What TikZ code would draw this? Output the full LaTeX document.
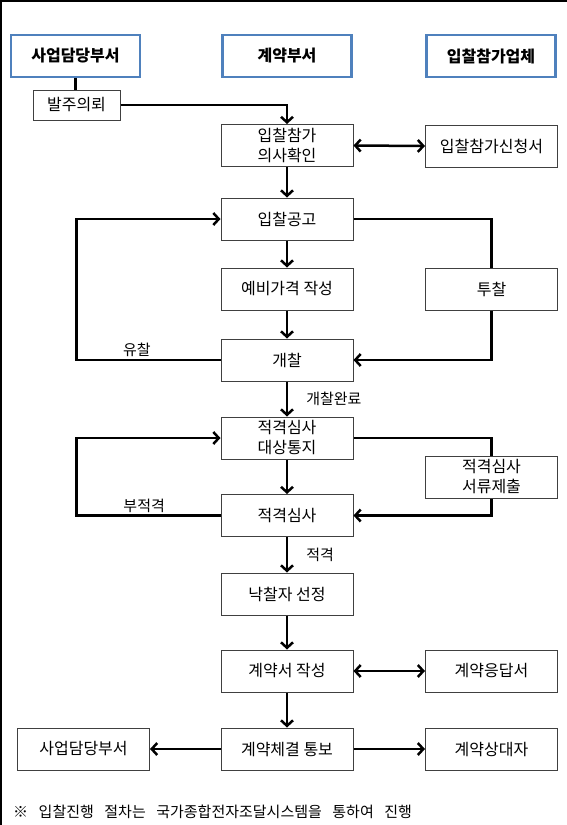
\documentclass[tikz,border=0pt]{standalone}
\usepackage{fontspec}
\usepackage{xcolor}
\usetikzlibrary{arrows.meta}
\setmainfont{Noto Sans CJK KR}

\definecolor{hdrblue}{RGB}{79,129,189}
\definecolor{boxgray}{RGB}{64,64,64}

\begin{document}
\begin{tikzpicture}[x=1pt, y=-1pt,
    box/.style={draw=boxgray, line width=1pt, minimum width=132pt, minimum height=42pt,
        inner sep=0pt, align=center, font=\fontsize{16}{20}\selectfont},
    hdr/.style={draw=hdrblue, line width=2.5pt, minimum width=129pt, minimum height=42pt,
        inner sep=0pt, font=\fontsize{16}{20}\selectfont\bfseries},
    link/.style={line width=2.5pt},
    flow/.style={line width=2.5pt, -{Straight Barb[length=5.5pt, width=12pt]}},
    both/.style={line width=2.5pt, {Straight Barb[length=5.5pt, width=12pt]}-{Straight Barb[length=5.5pt, width=12pt]}},
    tag/.style={font=\fontsize{15}{16}\selectfont, inner sep=2pt}]

    % Frame and page size
    \useasboundingbox (0, 0) rectangle (567, 825);
    \draw[line width=1.5pt] (1, 825) -- (1, 1) -- (567, 1);

    % Headers
    \node[hdr] (hdrA) at (75.5, 56) {사업담당부서};
    \node[hdr] (hdrB) at (287, 56) {계약부서};
    \node[hdr] (hdrC) at (491, 56) {입찰참가업체};

    % Steps
    \node[box, minimum width=87pt, minimum height=30pt] (order) at (76.5, 105) {발주의뢰};
    \node[box] (intent) at (287, 145.5) {입찰참가\\의사확인};
    \node[box] (apply) at (491.5, 146) {입찰참가신청서};
    \node[box] (notice) at (287, 219) {입찰공고};
    \node[box] (price) at (287, 289) {예비가격 작성};
    \node[box] (bid) at (491.5, 289) {투찰};
    \node[box] (open) at (287, 360) {개찰};
    \node[box] (target) at (287, 438) {적격심사\\대상통지};
    \node[box] (docs) at (491.5, 477) {적격심사\\서류제출};
    \node[box] (review) at (287, 515.5) {적격심사};
    \node[box] (winner) at (287, 594) {낙찰자 선정};
    \node[box] (contract) at (287, 671) {계약서 작성};
    \node[box] (reply) at (491.5, 671) {계약응답서};
    \node[box] (notify) at (287, 749) {계약체결 통보};
    \node[box] (dept) at (83.5, 749) {사업담당부서};
    \node[box] (partner) at (491.5, 749) {계약상대자};

    % Request and intent
    \draw[link] (hdrA.south) -- (hdrA.south |- order.north);
    \draw[flow] (order.east) -| (intent.north);
    \draw[both] (intent.east) -- (apply.west);
    \draw[flow] (intent) -- (notice);

    % Notice, bidding, opening
    \draw[flow] (notice) -- (price);
    \draw[flow] (price) -- (open);
    \draw[link] (notice.east) -| (bid.north);
    \draw[flow] (bid.south) |- (open.east);
    \draw[flow] (open.west) -- node[tag, pos=0.58, above] {유찰} (open.west -| order.south) |- (notice.west);
    \draw[flow] (open) -- node[tag, right, xshift=16pt] {개찰완료} (target);

    % Qualification review
    \draw[link] (target.east) -| (docs.north);
    \draw[flow] (docs.south) |- (review.east);
    \draw[flow] (target) -- (review);
    \draw[flow] (review.west) -- node[tag, pos=0.53, above] {부적격} (review.west -| order.south) |- (target.west);
    \draw[flow] (review) -- node[tag, right, xshift=16pt] {적격} (winner);

    % Contract
    \draw[flow] (winner) -- (contract);
    \draw[both] (contract.east) -- (reply.west);
    \draw[flow] (contract) -- (notify);
    \draw[flow] (notify) -- (dept);
    \draw[flow] (notify) -- (partner);

    % Footnote
    \node[anchor=west, inner sep=0pt, font=\fontsize{15}{16}\selectfont] (note) at (13, 812)
        {※\hspace{10.5pt}입찰진행\hspace{10.5pt}절차는\hspace{10.5pt}국가종합전자조달시스템을\hspace{10.5pt}통하여\hspace{10.5pt}진행};

\end{tikzpicture}
\end{document}
